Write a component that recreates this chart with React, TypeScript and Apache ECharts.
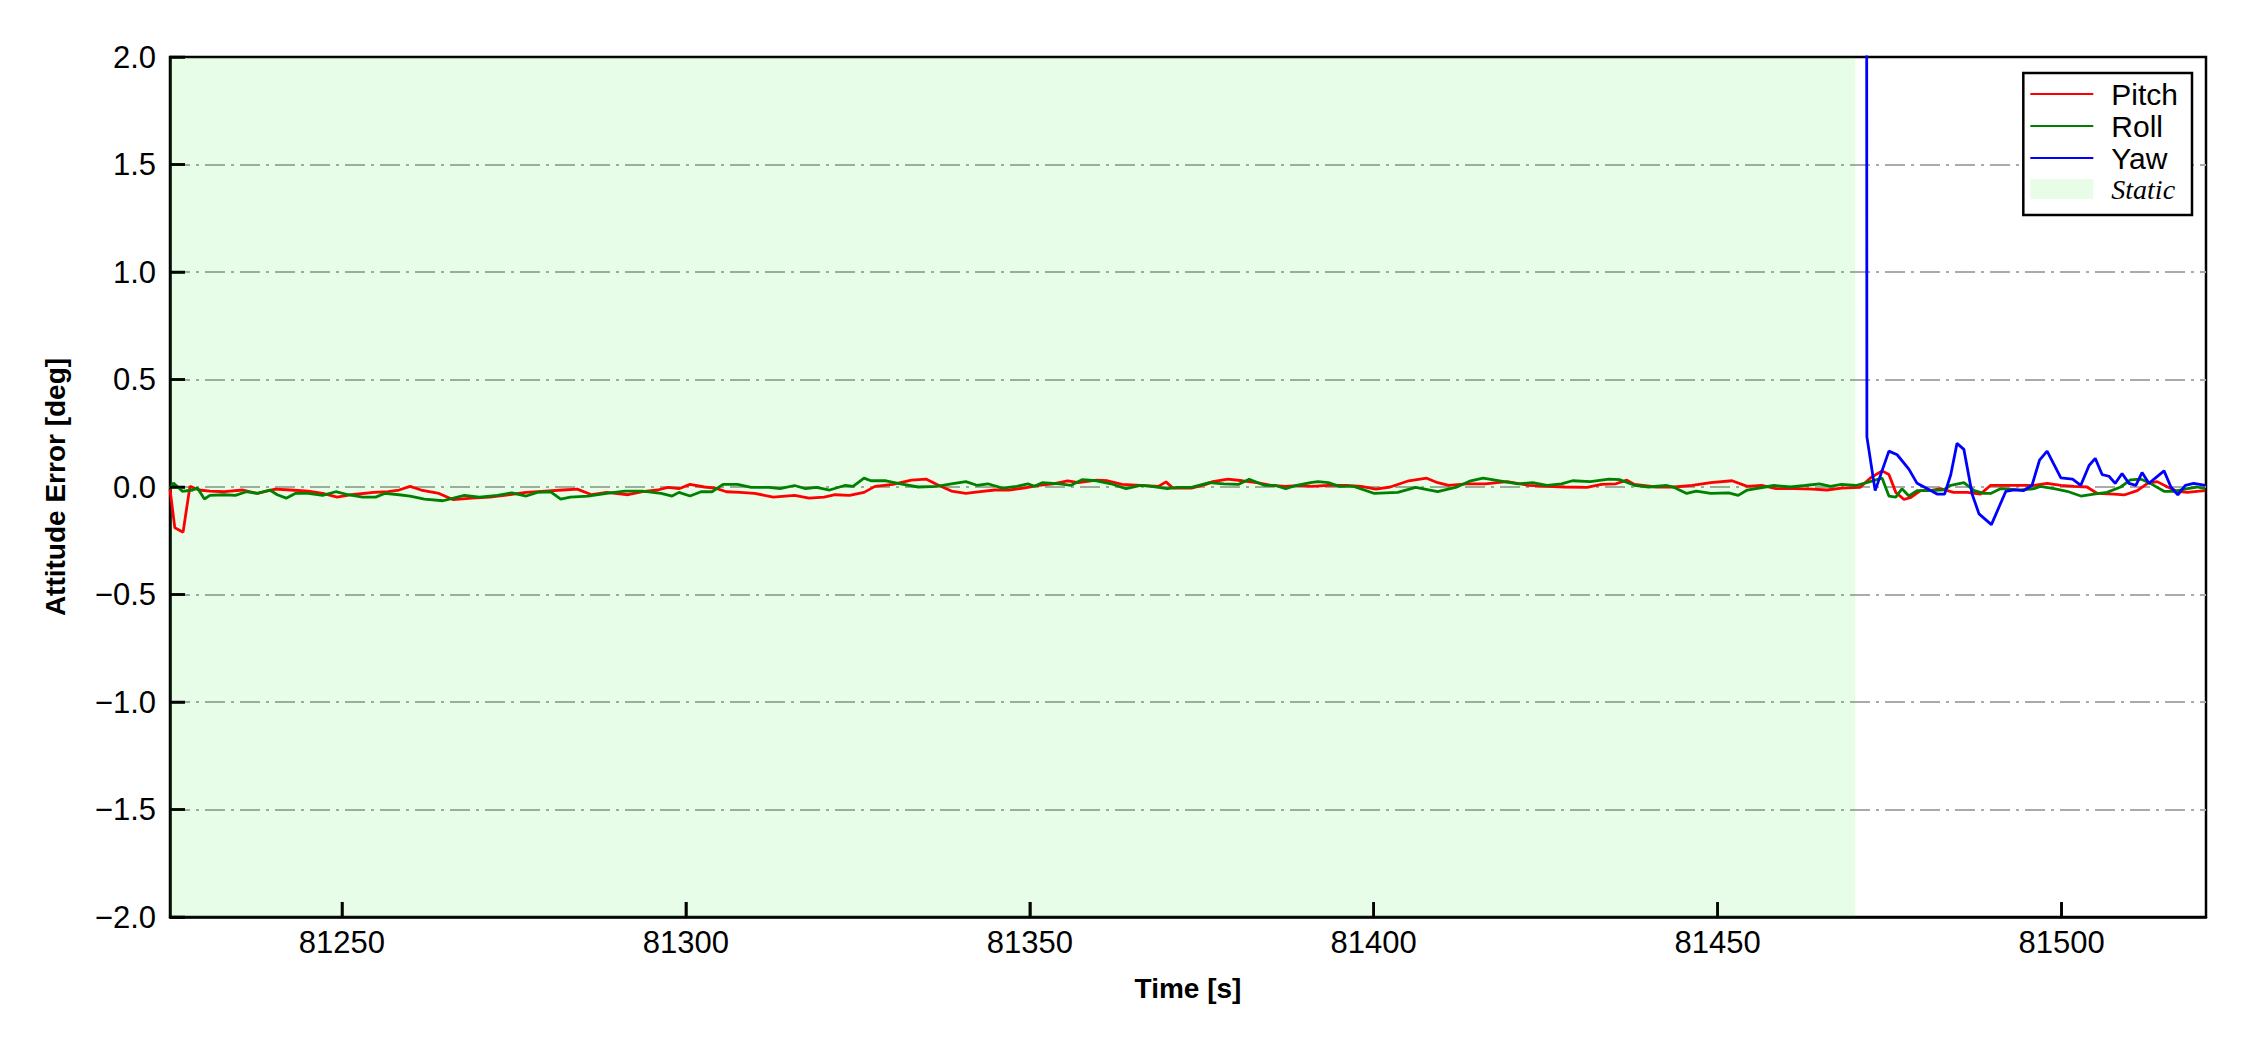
import React, { useEffect, useRef } from 'react';
import * as echarts from 'echarts';

// ---------- data ----------
const xRange = [81225, 81521];
const xTicks = [81250, 81300, 81350, 81400, 81450, 81500];
const yTicks = [-2.0, -1.5, -1.0, -0.5, 0.0, 0.5, 1.0, 1.5, 2.0];
const yStep = 0.5;
const staticInterval = [81225, 81470];

const pitchTime = [
  81225.0, 81225.7, 81226.9, 81227.9, 81229.2, 81230.8, 81232.9, 81235.6, 81237.7, 81240.3,
  81242.5, 81245.1, 81247.2, 81249.3, 81251.4, 81254.6, 81256.7, 81258.3, 81259.9, 81261.5,
  81264.1, 81266.2, 81268.9, 81271.5, 81274.2, 81276.8, 81279.5, 81282.1, 81284.2, 81286.3,
  81288.5, 81291.6, 81293.7, 81295.9, 81297.4, 81299.0, 81300.6, 81302.7, 81304.3, 81305.9,
  81307.9, 81310.0, 81312.7, 81315.8, 81317.9, 81320.1, 81321.7, 81323.8, 81325.9, 81327.5,
  81330.1, 81332.8, 81334.9, 81336.5, 81338.6, 81340.7, 81342.8, 81344.9, 81347.0, 81349.1,
  81351.3, 81353.4, 81355.5, 81357.1, 81359.7, 81361.3, 81363.4, 81366.1, 81368.7, 81369.8,
  81370.8, 81373.5, 81375.6, 81376.6, 81378.8, 81380.9, 81383.0, 81385.1, 81387.2, 81389.3,
  81391.0, 81393.4, 81396.1, 81398.2, 81400.3, 81402.4, 81405.1, 81407.7, 81409.3, 81410.9,
  81413.5, 81416.2, 81419.4, 81422.5, 81425.2, 81427.8, 81431.0, 81433.1, 81435.2, 81436.8,
  81437.9, 81441.0, 81443.7, 81446.3, 81449.0, 81452.1, 81454.3, 81456.4, 81458.5, 81461.1,
  81463.8, 81465.9, 81468.0, 81470.7, 81472.2, 81473.9, 81474.9, 81475.9, 81477.1, 81478.0,
  81479.5, 81480.9, 81482.4, 81484.3, 81486.3, 81488.2, 81489.7, 81492.1, 81494.0, 81496.0,
  81497.9, 81499.9, 81501.8, 81503.7, 81505.2, 81507.6, 81509.1, 81511.0, 81512.5, 81513.9,
  81515.4, 81516.8, 81518.3, 81519.7, 81520.9,
];
const pitchDeg = [
  -0.010, -0.190, -0.210, 0.003, -0.014, -0.019, -0.022, -0.014, -0.030, -0.010,
  -0.014, -0.019, -0.030, -0.047, -0.036, -0.025, -0.022, -0.014, 0.003, -0.014,
  -0.030, -0.059, -0.052, -0.047, -0.036, -0.025, -0.019, -0.014, -0.010, -0.036,
  -0.025, -0.036, -0.022, -0.014, -0.002, -0.008, 0.012, 0.000, -0.005, -0.022,
  -0.025, -0.030, -0.047, -0.039, -0.052, -0.047, -0.036, -0.039, -0.025, 0.003,
  0.012, 0.032, 0.037, 0.012, -0.019, -0.030, -0.022, -0.014, -0.014, -0.005,
  0.008, 0.015, 0.029, 0.020, 0.032, 0.029, 0.012, 0.008, 0.003, 0.024,
  -0.005, -0.005, 0.012, 0.025, 0.037, 0.029, 0.020, 0.008, 0.003, 0.008,
  0.003, 0.008, 0.008, 0.003, -0.010, 0.000, 0.029, 0.041, 0.020, 0.008,
  0.015, 0.015, 0.025, 0.008, 0.003, 0.000, -0.002, 0.012, 0.015, 0.032,
  0.012, 0.000, 0.000, 0.008, 0.020, 0.029, 0.003, 0.008, -0.008, -0.008,
  -0.010, -0.014, -0.005, -0.002, 0.042, 0.075, 0.058, -0.025, -0.058, -0.050,
  -0.017, -0.017, -0.008, -0.025, -0.025, -0.033, 0.008, 0.008, 0.008, 0.008,
  0.017, 0.008, 0.003, 0.000, -0.030, -0.033, -0.037, -0.017, 0.017, 0.025,
  0.000, -0.020, -0.025, -0.020, -0.017,
];

const rollTime = [
  81225.0, 81225.5, 81226.8, 81228.3, 81229.0, 81230.0, 81230.8, 81232.9, 81234.5, 81236.1,
  81237.7, 81239.5, 81240.6, 81241.9, 81243.2, 81245.1, 81247.2, 81249.1, 81250.9, 81253.0,
  81254.9, 81256.2, 81258.3, 81259.9, 81262.0, 81264.7, 81266.2, 81267.8, 81270.0, 81272.6,
  81274.7, 81276.8, 81278.4, 81280.3, 81281.8, 81283.2, 81285.8, 81288.5, 81291.1, 81293.7,
  81296.4, 81298.0, 81299.0, 81300.6, 81302.2, 81303.8, 81305.4, 81307.5, 81309.5, 81312.1,
  81313.7, 81315.8, 81317.4, 81319.0, 81320.9, 81323.2, 81324.3, 81325.9, 81326.9, 81329.1,
  81331.2, 81333.8, 81336.5, 81338.6, 81340.7, 81342.3, 81343.9, 81346.0, 81348.1, 81349.7,
  81350.7, 81351.8, 81354.4, 81356.0, 81357.6, 81359.7, 81361.8, 81364.0, 81366.1, 81367.7,
  81370.0, 81371.4, 81373.5, 81376.1, 81378.2, 81380.3, 81381.9, 81384.1, 81385.6, 81387.2,
  81388.8, 81390.8, 81391.9, 81393.4, 81395.0, 81397.1, 81400.1, 81403.5, 81406.1, 81409.3,
  81411.9, 81414.1, 81415.9, 81418.3, 81421.0, 81423.1, 81425.2, 81427.3, 81428.9, 81431.5,
  81434.2, 81435.8, 81437.9, 81440.0, 81442.6, 81443.7, 81445.5, 81446.9, 81449.0, 81451.6,
  81453.0, 81454.3, 81456.9, 81458.2, 81460.6, 81462.7, 81464.8, 81466.4, 81468.0, 81470.1,
  81472.2, 81473.9, 81474.9, 81475.9, 81476.8, 81477.8, 81479.0, 81480.9, 81482.9, 81483.9,
  81485.8, 81487.3, 81488.7, 81489.7, 81491.1, 81494.0, 81496.0, 81496.9, 81498.9, 81500.8,
  81502.8, 81504.7, 81506.6, 81508.6, 81510.0, 81511.5, 81512.9, 81514.9, 81516.3, 81518.3,
  81519.7, 81520.9,
];
const rollDeg = [
  -0.005, 0.019, -0.020, -0.014, -0.005, -0.056, -0.039, -0.036, -0.039, -0.022,
  -0.030, -0.014, -0.036, -0.052, -0.030, -0.030, -0.039, -0.022, -0.036, -0.047,
  -0.047, -0.030, -0.036, -0.042, -0.056, -0.064, -0.052, -0.039, -0.047, -0.039,
  -0.027, -0.042, -0.025, -0.022, -0.056, -0.047, -0.042, -0.030, -0.019, -0.019,
  -0.030, -0.042, -0.025, -0.042, -0.022, -0.022, 0.012, 0.012, -0.002, -0.002,
  -0.008, 0.007, -0.008, -0.002, -0.014, 0.008, 0.003, 0.041, 0.029, 0.029,
  0.015, 0.000, 0.003, 0.015, 0.025, 0.008, 0.015, -0.005, 0.003, 0.015,
  0.003, 0.020, 0.015, 0.008, 0.034, 0.029, 0.015, -0.008, 0.008, 0.003,
  -0.008, -0.002, -0.002, 0.020, 0.015, 0.012, 0.036, 0.008, 0.008, -0.008,
  0.008, 0.020, 0.025, 0.020, 0.003, 0.003, -0.030, -0.025, -0.002, -0.022,
  -0.002, 0.029, 0.041, 0.029, 0.015, 0.020, 0.008, 0.015, 0.029, 0.025,
  0.037, 0.034, 0.008, 0.000, 0.007, -0.002, -0.030, -0.019, -0.030, -0.027,
  -0.039, -0.014, 0.000, 0.007, 0.000, 0.007, 0.015, 0.003, 0.012, 0.007,
  0.025, 0.042, -0.042, -0.047, -0.008, -0.042, -0.017, -0.017, -0.013, 0.008,
  0.020, -0.017, -0.030, -0.030, -0.008, -0.013, -0.008, 0.003, -0.008, -0.020,
  -0.042, -0.033, -0.025, 0.000, 0.033, 0.037, 0.017, -0.020, -0.020, -0.008,
  0.000, -0.008,
];

const yawTime = [
  81470.7, 81471.7, 81472.9, 81474.9, 81476.1, 81477.8, 81479.0, 81480.5, 81481.9, 81483.0,
  81483.9, 81484.8, 81485.8, 81487.0, 81488.0, 81489.8, 81491.9, 81493.1, 81494.5, 81495.7,
  81496.8, 81497.9, 81499.9, 81501.6, 81502.8, 81504.0, 81504.9, 81505.9, 81506.9, 81507.8,
  81508.8, 81509.8, 81510.8, 81511.7, 81512.7, 81514.9, 81515.9, 81516.9, 81518.0, 81519.2,
  81520.9,
];
const yawDeg = [
  60.0, 0.233, -0.017, 0.167, 0.150, 0.083, 0.017, -0.008, -0.033, -0.033,
  0.058, 0.203, 0.175, -0.033, -0.125, -0.175, -0.020, -0.013, -0.017, 0.008,
  0.125, 0.167, 0.042, 0.037, 0.008, 0.100, 0.133, 0.058, 0.050, 0.017,
  0.063, 0.017, 0.008, 0.067, 0.017, 0.075, 0.000, -0.037, 0.008, 0.017,
  0.008,
];

const legendNames = ['Pitch', 'Roll', 'Yaw', 'Static'];

// ---------- styling ----------
const FONT = '"Liberation Sans", Arial, Helvetica, sans-serif';
const SERIF = '"Liberation Serif", "Times New Roman", serif';
const STATIC_COLOR = 'rgba(0, 230, 0, 0.09)';
const TICK_LEN = 15;

const pairs = (t: number[], v: number[]) => t.map((x, i) => [x, v[i]]);

export default function App() {
  const ref = useRef<HTMLDivElement>(null);

  useEffect(() => {
    document.body.style.margin = '0';
    const chart = echarts.init(ref.current as HTMLDivElement, null, { renderer: 'svg' });
    const lineSeries = (name: string, color: string, data: number[][]) => ({
      name,
      type: 'line',
      data,
      symbol: 'none',
      showSymbol: false,
      clip: true,
      lineStyle: { color, width: 2.8 },
      itemStyle: { color },
      emphasis: { disabled: true },
    });
    chart.setOption({
      animation: false,
      backgroundColor: '#ffffff',
      grid: {
        left: 170,
        right: 44,
        top: 57,
        bottom: 133,
        show: true,
        borderColor: '#000',
        borderWidth: 2.5,
      },
      xAxis: {
        type: 'value',
        min: xRange[0],
        max: xRange[1],
        axisLine: { show: true, onZero: false, lineStyle: { color: '#000', width: 2.5 } },
        axisTick: {
          show: true,
          inside: true,
          length: TICK_LEN,
          customValues: xTicks,
          lineStyle: { color: '#000', width: 2.5 },
        },
        axisLabel: {
          customValues: xTicks,
          margin: 10,
          color: '#000',
          fontSize: 31,
          fontFamily: FONT,
          formatter: (v: number) => String(Math.round(v)),
        },
        splitLine: { show: false },
        name: 'Time [s]',
        nameLocation: 'middle',
        nameGap: 57,
        nameTextStyle: { fontWeight: 'bold', fontSize: 28, color: '#000', fontFamily: FONT },
      },
      yAxis: {
        type: 'value',
        min: yTicks[0],
        max: yTicks[yTicks.length - 1],
        interval: yStep,
        axisLine: { show: true, onZero: false, lineStyle: { color: '#000', width: 2.5 } },
        axisTick: {
          show: true,
          inside: true,
          length: TICK_LEN,
          lineStyle: { color: '#000', width: 2.5 },
        },
        axisLabel: {
          margin: 14,
          color: '#000',
          fontSize: 31,
          fontFamily: FONT,
          formatter: (v: number) => v.toFixed(1).replace('-', '\u2212'),
        },
        splitLine: {
          show: true,
          showMinLine: false,
          showMaxLine: false,
          lineStyle: { color: '#aaaaaa', width: 2.2, type: [20, 6, 3, 6] },
        },
        name: 'Attitude Error [deg]',
        nameLocation: 'middle',
        nameGap: 101,
        nameTextStyle: { fontWeight: 'bold', fontSize: 28, color: '#000', fontFamily: FONT },
      },
      legend: {
        data: legendNames.map((n) =>
          n === 'Static' ? { name: n, icon: 'rect' } : { name: n, itemStyle: { opacity: 0 } }
        ),
        orient: 'vertical',
        right: 58,
        top: 73,
        itemWidth: 63,
        itemHeight: 20,
        itemGap: 2,
        padding: [6, 14, 12, 6],
        backgroundColor: '#ffffff',
        borderColor: '#000000',
        borderWidth: 2.5,
        borderRadius: 0,
        selectedMode: false,
        formatter: (name: string) => (name === 'Static' ? `{s|${name}}` : name),
        textStyle: {
          fontSize: 30,
          fontFamily: FONT,
          color: '#000',
          lineHeight: 20,
          padding: [0, 0, 0, 13],
          rich: {
            s: { fontStyle: 'italic', fontFamily: SERIF, fontSize: 28, lineHeight: 20, color: '#000' },
          },
        },
      },
      series: [
        {
          name: 'Static',
          type: 'line',
          data: [],
          symbol: 'none',
          itemStyle: { color: STATIC_COLOR },
          lineStyle: { width: 0 },
          markArea: {
            silent: true,
            itemStyle: { color: STATIC_COLOR },
            data: [[{ xAxis: staticInterval[0] }, { xAxis: staticInterval[1] }]],
          },
        },
        lineSeries('Pitch', '#ff0000', pairs(pitchTime, pitchDeg)),
        lineSeries('Roll', '#008000', pairs(rollTime, rollDeg)),
        lineSeries('Yaw', '#0000ff', pairs(yawTime, yawDeg)),
      ],
    });

    // inward tick marks, positioned through the chart's own axis scales
    const yBottom = chart.convertToPixel({ yAxisIndex: 0 }, yTicks[0]) as number;
    const xLeft = chart.convertToPixel({ xAxisIndex: 0 }, xRange[0]) as number;
    const tickStyle = { stroke: '#000', lineWidth: 2.5 };
    const tickMarks: any[] = [];
    xTicks.forEach((v) => {
      const px = chart.convertToPixel({ xAxisIndex: 0 }, v) as number;
      tickMarks.push({
        type: 'line',
        z: 100,
        silent: true,
        shape: { x1: px, y1: yBottom, x2: px, y2: yBottom - TICK_LEN },
        style: tickStyle,
      });
    });
    yTicks.forEach((v) => {
      const py = chart.convertToPixel({ yAxisIndex: 0 }, v) as number;
      tickMarks.push({
        type: 'line',
        z: 100,
        silent: true,
        shape: { x1: xLeft, y1: py, x2: xLeft + TICK_LEN, y2: py },
        style: tickStyle,
      });
    });
    chart.setOption({ graphic: tickMarks });

    return () => chart.dispose();
  }, []);

  return (
    <div
      ref={ref}
      style={{ position: 'absolute', left: 0, top: 0, width: 2250, height: 1050, background: '#fff' }}
    />
  );
}
